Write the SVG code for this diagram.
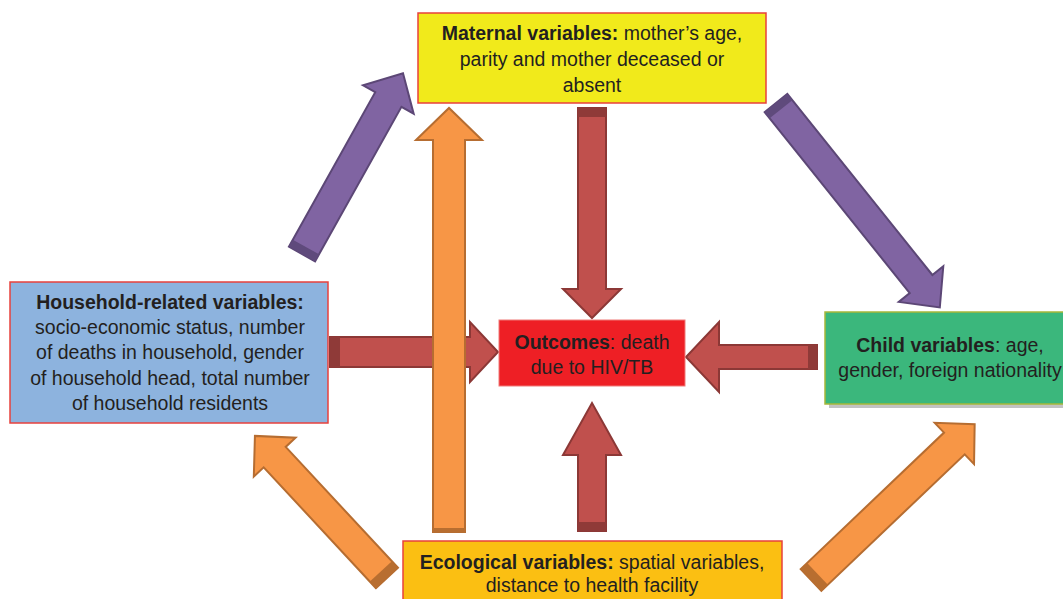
<svg xmlns="http://www.w3.org/2000/svg" width="1063" height="599" viewBox="0 0 1063 599">
<style>
  text { font-family: "Liberation Sans", Arial, sans-serif; font-size: 19.5px; fill: #231f20; text-anchor: middle; }
  .b { font-weight: bold; }
  .purple { fill: #8064a2; stroke: #5c4776; stroke-width: 2; stroke-linejoin: miter; }
  .purple-cap { fill: #5f4a7c; }
  .orange { fill: #f79646; stroke: #b66d31; stroke-width: 2; }
  .orange-cap { fill: #b86e30; }
  .red { fill: #c0504d; stroke: #8c3836; stroke-width: 2; }
  .red-cap { fill: #8f3a38; }
</style>
<rect width="1063" height="599" fill="#ffffff"/>
<g id="connectors">
  <!-- red arrows -->
  <g transform="translate(592,108) rotate(90)">
    <path class="red" d="M0,-14 L181,-14 L181,-29 L210,0 L181,29 L181,14 L0,14 Z"/>
    <rect class="red-cap" x="0" y="-14" width="9" height="28"/>
  </g>
  <g transform="translate(592,531) rotate(-90)">
    <path class="red" d="M0,-14 L76,-14 L76,-29 L128,0 L76,29 L76,14 L0,14 Z"/>
    <rect class="red-cap" x="0" y="-14" width="9" height="28"/>
  </g>
  <g transform="translate(330,352)">
    <path class="red" d="M0,-15 L140,-15 L140,-30 L168,0 L140,30 L140,15 L0,15 Z"/>
    <rect class="red-cap" x="0" y="-15" width="10" height="30"/>
  </g>
  <g transform="translate(817,357) rotate(180)">
    <path class="red" d="M0,-12 L98,-12 L98,-35 L131,0 L98,35 L98,12 L0,12 Z"/>
    <rect class="red-cap" x="0" y="-12" width="9" height="24"/>
  </g>
  <!-- orange arrows -->
  <g transform="translate(449,532) rotate(-90)">
    <path class="orange" d="M0,-16 L392,-16 L392,-33 L424,0 L392,33 L392,16 L0,16 Z"/>
    <rect class="orange-cap" x="0" y="-16" width="4" height="32"/>
  </g>
  <g transform="translate(387,578) rotate(-132.9)">
    <path class="orange" d="M0,-15 L165,-15 L165,-28.5 L194,0 L165,28.5 L165,15 L0,15 Z"/>
    <rect class="orange-cap" x="0" y="-15" width="9" height="30"/>
  </g>
  <g transform="translate(811,580) rotate(-43.6)">
    <path class="orange" d="M0,-15 L198,-15 L198,-28.5 L226,0 L198,28.5 L198,15 L0,15 Z"/>
    <rect class="orange-cap" x="0" y="-15" width="9" height="30"/>
  </g>
  <!-- purple arrows -->
  <g transform="translate(302,254) rotate(-60.8)">
    <path class="purple" d="M0,-15 L177,-15 L177,-29 L207,0 L177,29 L177,15 L0,15 Z"/>
    <rect class="purple-cap" x="0" y="-15" width="8" height="30"/>
  </g>
  <g transform="translate(776,103) rotate(51.3)">
    <path class="purple" d="M0,-14.5 L232,-14.5 L232,-28.5 L262,0 L232,28.5 L232,14.5 L0,14.5 Z"/>
    <rect class="purple-cap" x="0" y="-14.5" width="8" height="29"/>
  </g>
</g>
<g id="maternal">
  <rect x="418" y="13" width="348" height="90" fill="#f1ea1b" stroke="#e8413c" stroke-width="1.5"/>
  <text x="592" y="40"><tspan class="b">Maternal variables:</tspan> mother’s age,</text>
  <text x="592" y="66">parity and mother deceased or</text>
  <text x="592" y="92">absent</text>
</g>
<g id="household">
  <rect x="10" y="282" width="318" height="141" fill="#8db3de" stroke="#e8413c" stroke-width="1.5"/>
  <text x="170" y="309" class="b">Household-related variables:</text>
  <text x="170" y="334">socio-economic status, number</text>
  <text x="170" y="359">of deaths in household, gender</text>
  <text x="170" y="385">of household head, total number</text>
  <text x="170" y="410">of household residents</text>
</g>
<g id="outcomes">
  <rect x="499" y="320" width="186" height="66" fill="#ee1f25" stroke="#f07a78" stroke-width="1"/>
  <text x="592" y="349"><tspan class="b">Outcomes</tspan>: death</text>
  <text x="592" y="374">due to HIV/TB</text>
</g>
<g id="child">
  <rect x="829" y="316" width="240" height="92" fill="#9a9a9a" opacity="0.6"/>
  <rect x="825" y="312" width="240" height="92" fill="#3bb77c" stroke="#a6b83a" stroke-width="1.5"/>
  <text x="950" y="352"><tspan class="b">Child variables</tspan>: age,</text>
  <text x="950" y="377">gender, foreign nationality</text>
</g>
<g id="ecological">
  <rect x="403" y="541" width="379" height="62" fill="#fbbf12" stroke="#e8413c" stroke-width="1.5"/>
  <text x="592" y="569"><tspan class="b">Ecological variables:</tspan> spatial variables,</text>
  <text x="592" y="592">distance to health facility</text>
</g>
</svg>
